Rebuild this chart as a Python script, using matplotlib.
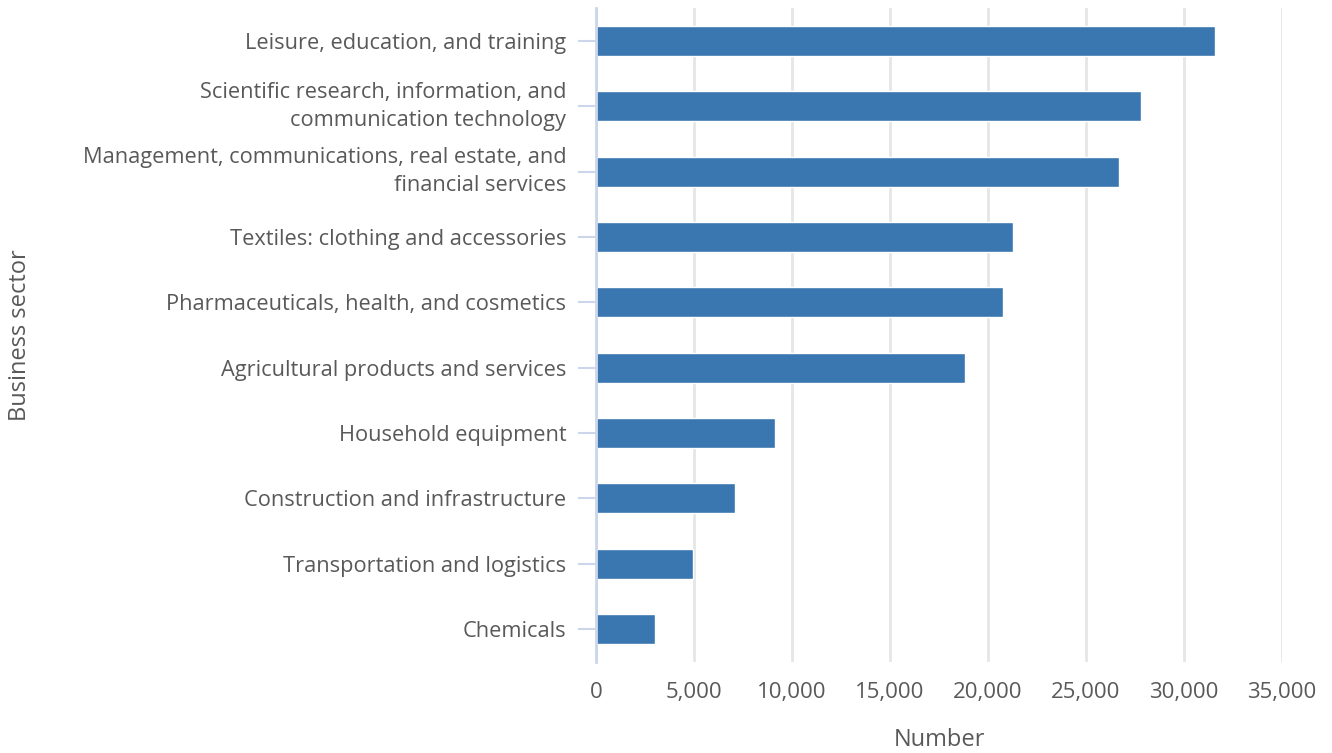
import matplotlib
matplotlib.use("Agg")
import matplotlib.pyplot as plt
from matplotlib.ticker import FuncFormatter

categories = [
    "Leisure, education, and training",
    "Scientific research, information, and\ncommunication technology",
    "Management, communications, real estate, and\nfinancial services",
    "Textiles: clothing and accessories",
    "Pharmaceuticals, health, and cosmetics",
    "Agricultural products and services",
    "Household equipment",
    "Construction and infrastructure",
    "Transportation and logistics",
    "Chemicals",
]
values = [31580, 27810, 26680, 21280, 20770, 18830, 9130, 7090, 4950, 3010]
x_ticks = [0, 5000, 10000, 15000, 20000, 25000, 30000, 35000]

plt.rcParams['font.family'] = ['Open Sans', 'DejaVu Sans']
W, H = 1332, 753
fig = plt.figure(figsize=(W / 100, H / 100), dpi=100)
ax = fig.add_axes([596 / W, 1 - 661.6 / H, (1282 - 596) / W, (661.6 - 8.4) / H])

ypos = list(range(len(categories)))
ax.barh(ypos, values, height=0.46, color="#3a76af", edgecolor="white", linewidth=1, zorder=3)
ax.set_ylim(len(categories) - 0.5, -0.5)
ax.set_xlim(0, 35000)
ax.set_xticks(x_ticks)
ax.xaxis.set_major_formatter(FuncFormatter(lambda v, p: f"{int(v):,}"))
ax.set_yticks(ypos)
labels = ax.set_yticklabels(categories, linespacing=1.45)
for lab in labels:
    if "\n" in lab.get_text():
        lab.set_verticalalignment("center")

ax.grid(axis="x", color="#e6e6e6", linewidth=2, zorder=0)
ax.set_axisbelow(True)
for s in ["top", "right", "bottom"]:
    ax.spines[s].set_visible(False)
ax.spines["left"].set_color("#ccd6eb")
ax.spines["left"].set_linewidth(2)
ax.spines["left"].set_zorder(4)

ax.tick_params(axis="y", length=13, width=1.5, color="#ccd6eb", pad=8.5, labelsize=15.7, labelcolor="#595959")
ax.tick_params(axis="x", length=0, pad=15, labelsize=16, labelcolor="#595959")

fig.text(20 / W, 1 - 335 / H, "Business sector", rotation=90, ha="center", va="center", fontsize=17, color="#595959")
fig.text(940 / W, 1 - 740 / H, "Number", ha="center", va="center", fontsize=17, color="#595959")

fig.savefig("out.png", dpi=100, facecolor="white")
